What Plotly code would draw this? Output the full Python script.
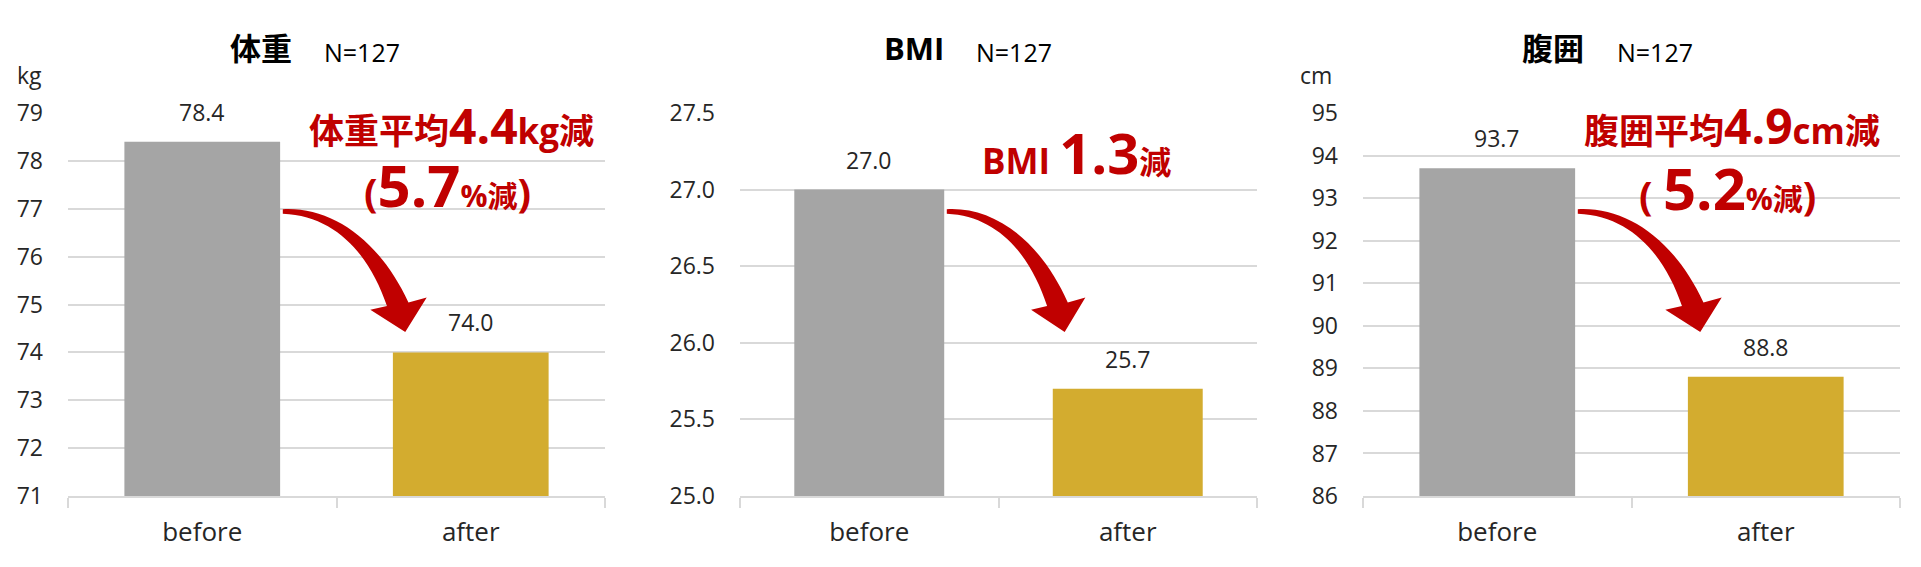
import plotly.graph_objects as go

# the page body keeps an 8px margin, so the figure is laid out in page pixels minus that
PAGE_W, PAGE_H, BODY = 1921, 567, 8
W, H = PAGE_W - 2 * BODY, PAGE_H - 2 * BODY

categories = ["before", "after"]
weight_kg = [78.4, 74.0]
bmi_vals = [27.0, 25.7]
waist_cm = [93.7, 88.8]

titles = ["体重", "BMI", "腹囲"]
units = ["kg", "", "cm"]
n_label = "N=127"
y_ranges = [[71, 79], [25.0, 27.5], [86, 95]]
y_dticks = [1, 0.5, 1]
y_formats = ["d", ".1f", "d"]

SPAN = "<span style='font-size:{}px'>{}</span>"
notes = [
    ["体重平均" + SPAN.format(48, "4.4") + "kg減",
     SPAN.format(40, "(") + SPAN.format(58, "5.7") + SPAN.format(30, "%減") + SPAN.format(40, ")")],
    ["BMI " + SPAN.format(56, "1.3") + SPAN.format(32, "減")],
    ["腹囲平均" + SPAN.format(48, "4.9") + "cm減",
     SPAN.format(40, "( ") + SPAN.format(58, "5.2") + SPAN.format(30, "%減") + SPAN.format(40, ")")],
]

GREY = "#a5a5a5"
GOLD = "#d3ac2f"
RED = "#c00000"
GRID = "#d9d9d9"
TXT = "#262626"
FONT = "Open Sans, Noto Sans CJK JP, sans-serif"

# plot areas in page pixels: (left, right), shared top/bottom
x_px = [(68, 605), (740, 1257), (1363, 1900)]
top_px, bot_px = 113, 496
title_pos = [(294, 322), (946, 974), (1586, 1615)]
unit_pos = [29, None, 1316]
note_pos = [[(451, 125), (447, 184)], [(1076, 152)], [(1732, 125), (1727, 187)]]

# curved arrow in axis-domain units (same for every panel)
ARROW = ("M 0.400 0.749 C 0.490 0.756 0.580 0.670 0.634 0.505 "
         "L 0.668 0.518 L 0.628 0.428 L 0.563 0.486 L 0.594 0.496 "
         "C 0.563 0.624 0.502 0.731 0.400 0.737 Z")


def px(x):
    return (x - BODY) / W


def py(y):
    return 1 - (y - BODY) / H


series = [weight_kg, bmi_vals, waist_cm]
fig = go.Figure()
layout = dict(
    width=W, height=H, autosize=False,
    margin=dict(l=0, r=0, t=0, b=0),
    paper_bgcolor="white", plot_bgcolor="white",
    showlegend=False, font=dict(family=FONT, color=TXT),
    annotations=[], shapes=[],
)

for i, vals in enumerate(series):
    k = "" if i == 0 else str(i + 1)
    fig.add_trace(go.Bar(
        x=categories, y=vals, width=0.58,
        marker=dict(color=[GREY, GOLD], line=dict(width=0)),
        xaxis="x" + k, yaxis="y" + k, hoverinfo="x+y",
    ))
    layout["xaxis" + k] = dict(
        domain=[px(x_px[i][0]), px(x_px[i][1])], anchor="y" + k,
        type="category", range=[-0.5, 1.5],
        showline=True, linecolor=GRID, linewidth=1.5,
        ticks="outside", tickson="boundaries", ticklen=10,
        tickcolor=GRID, tickwidth=1.5, showgrid=False,
        tickfont=dict(size=26, color=TXT), ticklabelstandoff=12,
        automargin=False, fixedrange=True,
    )
    layout["yaxis" + k] = dict(
        domain=[py(bot_px), py(top_px)], anchor="x" + k,
        range=y_ranges[i], dtick=y_dticks[i], tickformat=y_formats[i],
        showgrid=True, gridcolor=GRID, gridwidth=1.5,
        zeroline=False, showline=False, ticks="",
        tickfont=dict(size=23, color=TXT), ticklabelstandoff=24,
        automargin=False, fixedrange=True,
    )
    for c, v in zip(categories, vals):
        layout["annotations"].append(dict(
            x=c, y=v, xref="x" + k, yref="y" + k, text=f"{v:.1f}",
            showarrow=False, yanchor="bottom", yshift=12,
            font=dict(size=23, color=TXT),
        ))
    layout["annotations"].append(dict(
        x=px(title_pos[i][0]), y=py(48), xref="paper", yref="paper",
        text=f"<b>{titles[i]}</b>", showarrow=False,
        xanchor="right", yanchor="middle", font=dict(size=31, color="black"),
    ))
    layout["annotations"].append(dict(
        x=px(title_pos[i][1]), y=py(52), xref="paper", yref="paper",
        text=n_label, showarrow=False,
        xanchor="left", yanchor="middle", font=dict(size=25, color="black"),
    ))
    if units[i]:
        layout["annotations"].append(dict(
            x=px(unit_pos[i]), y=py(75), xref="paper", yref="paper",
            text=units[i], showarrow=False,
            xanchor="center", yanchor="middle", font=dict(size=23, color=TXT),
        ))
    for line, (nx, ny) in zip(notes[i], note_pos[i]):
        layout["annotations"].append(dict(
            x=px(nx), y=py(ny), xref="paper", yref="paper",
            text=f"<b>{line}</b>", showarrow=False,
            xanchor="center", yanchor="middle",
            font=dict(size=35, color=RED, family=FONT),
        ))
    layout["shapes"].append(dict(
        type="path", path=ARROW, xref=f"x{k} domain", yref=f"y{k} domain",
        fillcolor=RED, line=dict(width=0), layer="above",
    ))

fig.update_layout(**layout)
fig.write_html("out.html", config={"displayModeBar": False})
